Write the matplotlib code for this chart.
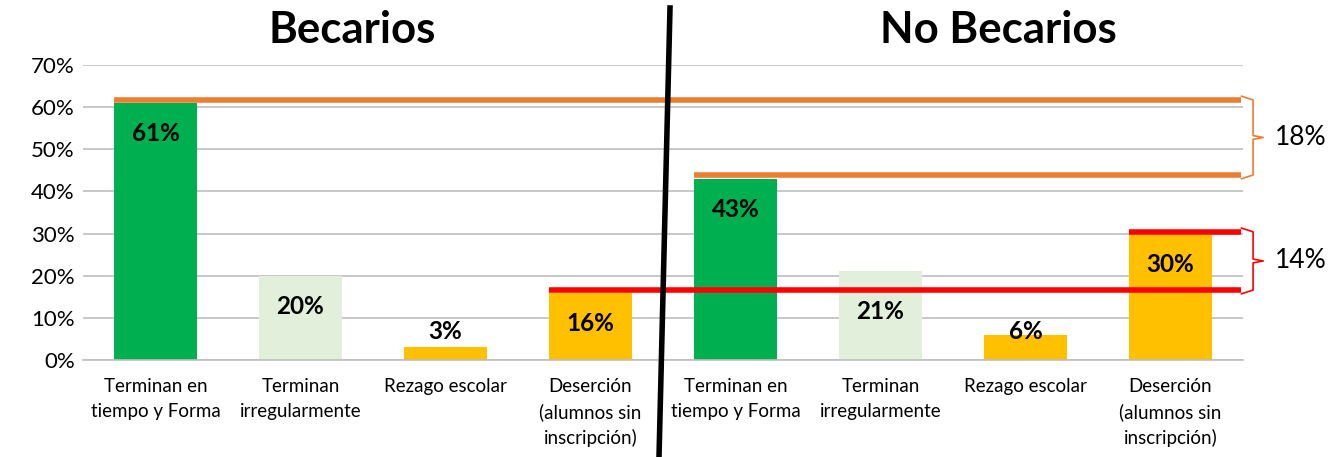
import matplotlib.pyplot as plt
from matplotlib.lines import Line2D

plt.rcParams['font.family'] = ['Lato', 'DejaVu Sans']

categories = ['Terminan en\ntiempo y Forma', 'Terminan\nirregularmente', 'Rezago escolar',
              'Deserción\n(alumnos sin\ninscripción)'] * 2
values = [61, 20, 3, 16, 43, 21, 6, 30]
colors = ['#00B050', '#E2EFDA', '#FFC000', '#FFC000'] * 2
group_titles = ['Becarios', 'No Becarios']
# comparison lines: (value, first bar index, colour)
ref_lines = [(61.7, 0, '#ED7D31'), (43.9, 4, '#ED7D31'), (30.4, 7, '#FF0000'), (16.6, 3, '#FF0000')]
gaps = [('18%', 61.7, 43.9, '#ED7D31'), ('14%', 30.4, 16.6, '#FF0000')]

fig = plt.figure(figsize=(13.43, 4.57), dpi=100)
ax = fig.add_axes([0.0618, 0.2123, 0.8637, 0.6455])

bw = 0.57
x = list(range(len(values)))
ax.bar(x, values, width=bw, color=colors, zorder=2)
for xi, v in zip(x, values):
    ly = max(v - 7.3, 6.8)
    # keep the label clear of a comparison line crossing the bar
    for val, idx, col in ref_lines:
        if xi >= idx and abs(val - ly) < 3.5:
            ly = val - 5.2
    ax.text(xi, ly, f'{v}%', ha='center', va='center',
            fontsize=17.5, fontweight='bold', zorder=4)

ax.set_xlim(-0.5, 7.5)
ax.set_ylim(0, 70)
ax.set_yticks(range(0, 71, 10))
ax.set_yticklabels([f'{t}%' for t in range(0, 71, 10)], fontsize=16)
ax.set_xticks(x)
ax.set_xticklabels(categories, fontsize=13.5, linespacing=1.55, va='top')
ax.tick_params(length=0, pad=13)
ax.tick_params(axis='y', pad=6)
ax.grid(axis='y', color='#BFBFBF', linewidth=1.2, zorder=0)
for s in ['left', 'right', 'top']:
    ax.spines[s].set_visible(False)
ax.spines['bottom'].set_color('#BFBFBF')
ax.spines['bottom'].set_linewidth(1.2)

for val, idx, col in ref_lines:
    ax.plot([idx - bw / 2, 7.49], [val, val], color=col, linewidth=4,
            solid_capstyle='butt', zorder=3, clip_on=False)

# curly braces on the right
for txt, top, bot, col in gaps:
    x0, x1, x2 = 7.49, 7.57, 7.64
    mid = (top + bot) / 2
    d = 0.9
    bx = [x0, x1, x1, x2, x1, x1, x0]
    by = [top + d, top, mid + d / 2, mid, mid - d / 2, bot, bot - d]
    ax.plot(bx, by, color=col, linewidth=1.2, clip_on=False)
    ax.text(7.9, mid, txt, ha='center', va='center', fontsize=19, clip_on=False)

fig.text(352 / 1343, 1 - 30 / 457, group_titles[0], ha='center', va='center',
         fontsize=31.5, fontweight='bold')
fig.text(998 / 1343, 1 - 30 / 457, group_titles[1], ha='center', va='center',
         fontsize=31.5, fontweight='bold')

fig.add_artist(Line2D([670 / 1343, 659 / 1343], [1 - 8 / 457, 0], color='black',
                      linewidth=4, transform=fig.transFigure, zorder=10))

fig.savefig('out.png', dpi=100)
